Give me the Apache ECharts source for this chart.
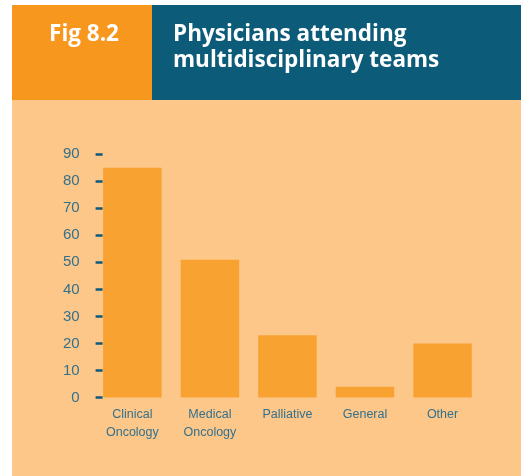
<!DOCTYPE html>
<html>
<head>
<meta charset="utf-8">
<script src="https://cdn.jsdelivr.net/npm/echarts@6/dist/echarts.min.js"></script>
<style>
html,body{margin:0;padding:0;background:#ffffff;}
#c{width:521px;height:476px;}
</style>
</head>
<body>
<div id="c"></div>
<script>
const categories = ['Clinical\nOncology', 'Medical\nOncology', 'Palliative', 'General', 'Other'];
const values = [85, 51, 23, 4, 20];
const yTicks = [0, 10, 20, 30, 40, 50, 60, 70, 80, 90];
const figLabel = 'Fig 8.2';
const titleLines = ['Physicians attending', 'multidisciplinary teams'];

const chart = echarts.init(document.getElementById('c'));
const labelFont = '"Liberation Sans", Arial, sans-serif';
const headFont = 'bold 22.5px "Open Sans", sans-serif';
chart.setOption({
  animation: false,
  graphic: [
    { type: 'rect', shape: { x: 12, y: 100, width: 509, height: 376 }, style: { fill: '#fdc78a' }, z: -10 },
    { type: 'rect', shape: { x: 12, y: 5, width: 140, height: 95 }, style: { fill: '#f7971e' } },
    { type: 'rect', shape: { x: 152, y: 5, width: 369, height: 95 }, style: { fill: '#0c5b79' } },
    { type: 'text', style: { x: 84, y: 35, text: figLabel, fill: '#ffffff', font: headFont, textAlign: 'center', textVerticalAlign: 'middle' } },
    { type: 'text', style: { x: 173, y: 35, text: titleLines[0], fill: '#ffffff', font: headFont, textAlign: 'left', textVerticalAlign: 'middle' } },
    { type: 'text', style: { x: 173, y: 61, text: titleLines[1], fill: '#ffffff', font: headFont, textAlign: 'left', textVerticalAlign: 'middle' } }
  ],
  grid: { left: 93.6, right: 39.7, top: 154.2, bottom: 78.5, containLabel: false },
  xAxis: {
    type: 'category',
    data: categories,
    axisLine: { show: false },
    axisTick: { show: false },
    axisLabel: { color: '#33708c', fontFamily: labelFont, fontSize: 12.5, lineHeight: 18, margin: 8 }
  },
  yAxis: {
    type: 'value',
    min: 0, max: 90, interval: 10,
    offset: -9,
    splitLine: { show: false },
    axisLine: { show: false },
    axisTick: { show: true, length: 7, lineStyle: { color: '#0d5a7c', width: 2.5 } },
    axisLabel: { color: '#33708c', fontFamily: labelFont, fontSize: 15, margin: 23,
      formatter: function (v) { return yTicks.indexOf(v) >= 0 ? String(v) : ''; } }
  },
  series: [{
    type: 'bar',
    data: values,
    barWidth: 58.5,
    itemStyle: { color: '#f8a232' }
  }]
});
</script>
</body>
</html>
